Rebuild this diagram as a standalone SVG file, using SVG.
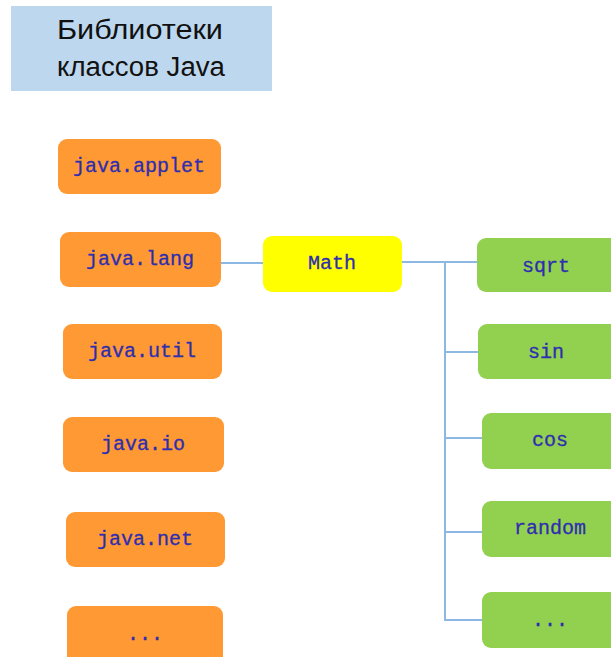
<svg xmlns="http://www.w3.org/2000/svg" width="611" height="657" viewBox="0 0 611 657">
  <style>
    .pkg { fill: #FF9933; }
    .cls { fill: #FFFF00; }
    .mth { fill: #92D050; }
    .lbl { font-family: "Liberation Mono", "DejaVu Sans Mono", monospace; font-size: 20px; fill: #2E2EB0; stroke: #2E2EB0; stroke-width: 0.3; text-anchor: middle; dominant-baseline: central; }
    .title { font-family: "Liberation Sans", Arial, sans-serif; font-size: 27px; fill: #111; }
    .conn { stroke: #8DB8E3; stroke-width: 2; fill: none; }
  </style>

  <!-- heading -->
  <g id="title">
    <rect x="11" y="6" width="261" height="85" fill="#BDD7EE"/>
    <text class="title" x="57" y="39" textLength="166" lengthAdjust="spacingAndGlyphs">Библиотеки</text>
    <text class="title" x="57" y="76" textLength="168" lengthAdjust="spacingAndGlyphs">классов Java</text>
  </g>

  <!-- connectors -->
  <g id="connectors">
    <line class="conn" x1="221" y1="263" x2="264" y2="263"/>
    <path class="conn" d="M401 262 H477 M445 262 V620 H482 M445 352 H478 M445 438 H482 M445 532 H482"/>
  </g>

  <!-- packages -->
  <g id="java-applet">
    <rect class="pkg" x="58" y="139" width="163" height="55" rx="9"/>
    <text class="lbl" x="139" y="166">java.applet</text>
  </g>
  <g id="java-lang">
    <rect class="pkg" x="60" y="232" width="161" height="55" rx="9"/>
    <text class="lbl" x="140" y="259">java.lang</text>
  </g>
  <g id="java-util">
    <rect class="pkg" x="63" y="324" width="159" height="55" rx="9"/>
    <text class="lbl" x="142" y="351">java.util</text>
  </g>
  <g id="java-io">
    <rect class="pkg" x="63" y="417" width="161" height="55" rx="9"/>
    <text class="lbl" x="143" y="444">java.io</text>
  </g>
  <g id="java-net">
    <rect class="pkg" x="66" y="512" width="159" height="55" rx="9"/>
    <text class="lbl" x="145" y="539">java.net</text>
  </g>
  <g id="pkg-more">
    <rect class="pkg" x="67" y="606" width="156" height="60" rx="9"/>
    <text class="lbl" x="145" y="634">...</text>
  </g>

  <!-- class -->
  <g id="math">
    <rect class="cls" x="263" y="236" width="139" height="56" rx="9"/>
    <text class="lbl" x="332" y="263">Math</text>
  </g>

  <!-- methods -->
  <g id="sqrt">
    <rect class="mth" x="477" y="238" width="145" height="54" rx="9"/>
    <text class="lbl" x="546" y="266">sqrt</text>
  </g>
  <g id="sin">
    <rect class="mth" x="478" y="324" width="144" height="55" rx="9"/>
    <text class="lbl" x="546" y="352">sin</text>
  </g>
  <g id="cos">
    <rect class="mth" x="482" y="413" width="140" height="56" rx="9"/>
    <text class="lbl" x="550" y="440">cos</text>
  </g>
  <g id="random">
    <rect class="mth" x="482" y="501" width="140" height="56" rx="9"/>
    <text class="lbl" x="550" y="528">random</text>
  </g>
  <g id="method-more">
    <rect class="mth" x="482" y="592" width="140" height="56" rx="9"/>
    <text class="lbl" x="550" y="620">...</text>
  </g>
</svg>
